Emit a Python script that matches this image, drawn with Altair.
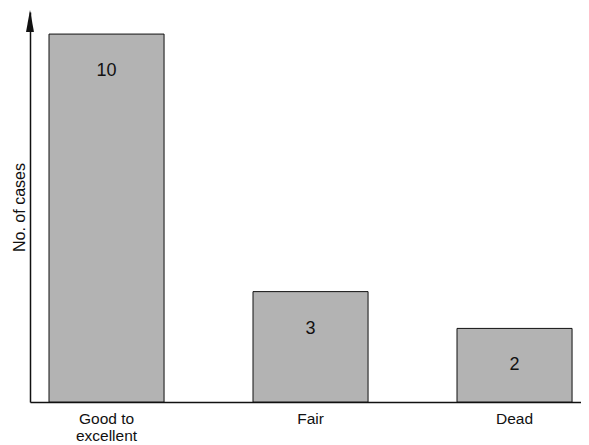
import altair as alt
import pandas as pd

categories = ["Good to excellent", "Fair", "Dead"]
cases = [10, 3, 2]

df = pd.DataFrame({"outcome": categories, "cases": cases})

W, H = 551, 390
FONT = "Liberation Sans"

xscale = alt.Scale(domain=categories, paddingInner=0.436, paddingOuter=0.0685, align=0.68)
yscale = alt.Scale(domain=[0, 10.6], nice=False)

base = alt.Chart(df)

bars = base.mark_bar(color="#b3b3b3", stroke="#111111", strokeWidth=1).encode(
    x=alt.X("outcome:N", scale=xscale, sort=categories,
            axis=alt.Axis(title=None, ticks=False, labelAngle=0, labelFont=FONT,
                          labelFontSize=15.5, labelColor="#111111", labelPadding=9,
                          domainColor="#111111", domainWidth=1.5, labelLineHeight=17,
                          labelExpr="datum.value == 'Good to excellent' ? ['Good to', 'excellent'] : datum.value")),
    y=alt.Y("cases:Q", scale=yscale,
            axis=alt.Axis(title="No. of cases", labels=False, ticks=False, grid=False,
                          domainColor="#111111", domainWidth=1.5, titleFont=FONT,
                          titleFontSize=16, titleFontWeight="normal", titleColor="#111111",
                          titlePadding=3)),
)

labels = base.mark_text(font=FONT, fontSize=18, color="#111111", baseline="middle", dy=37).encode(
    x=alt.X("outcome:N", scale=xscale, sort=categories),
    y=alt.Y("cases:Q", scale=yscale),
    text="cases:Q",
)

arrow = alt.Chart(pd.DataFrame({"a": [0]})).mark_point(
    shape="M0,-1L0.36,1L-0.36,1Z", filled=True, color="#111111", opacity=1, size=484
).encode(x=alt.value(0), y=alt.value(9))

chart = alt.layer(bars, labels, arrow).properties(
    width=W, height=H,
    background="white",
    autosize=alt.AutoSizeParams(type="none"),
    padding={"left": 22, "top": 4, "right": 0, "bottom": 40},
).configure_view(stroke=None).configure_axis(grid=False)

chart.save("out.html", embed_options={"renderer": "svg", "actions": False})
